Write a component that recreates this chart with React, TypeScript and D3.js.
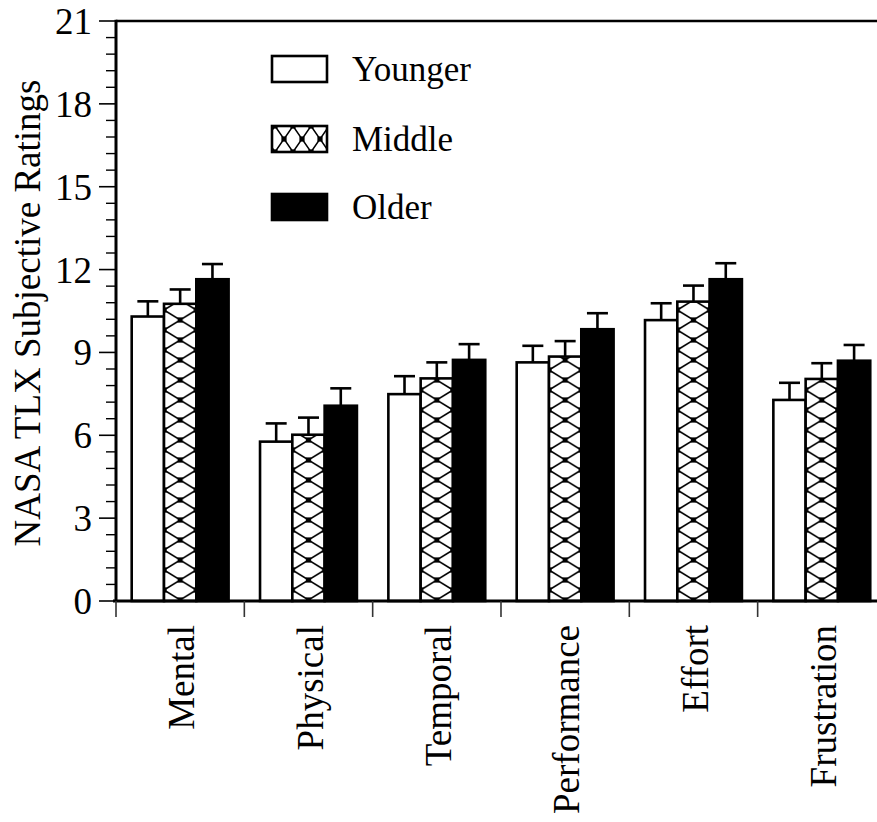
import * as d3 from 'd3'

const categories = ['Mental', 'Physical', 'Temporal', 'Performance', 'Effort', 'Frustration']
const groups = ['Younger', 'Middle', 'Older']

const youngerMeans = [10.3, 5.77, 7.49, 8.64, 10.17, 7.28]
const middleMeans = [10.76, 6.02, 8.06, 8.85, 10.84, 8.04]
const olderMeans = [11.65, 7.07, 8.73, 9.84, 11.65, 8.7]

const youngerErr = [0.55, 0.66, 0.65, 0.6, 0.61, 0.62]
const middleErr = [0.52, 0.62, 0.58, 0.56, 0.58, 0.57]
const olderErr = [0.55, 0.63, 0.57, 0.58, 0.58, 0.57]

const yTickLabels = [0, 3, 6, 9, 12, 15, 18, 21]

const W = 877
const H = 822
const FONT = 'Liberation Serif, Times New Roman, Times, DejaVu Serif, serif'

export default function App() {
  const left = 116
  const top = 21
  const bottom = 601
  const step = 128.33

  const y = d3.scaleLinear().domain([0, 21]).range([bottom, top])
  const x = d3
    .scaleBand<string>()
    .domain(categories)
    .range([left, left + step * categories.length])
    .padding(0)
  const xg = d3.scaleBand<string>().domain(groups).range([15.7, 112.6]).padding(0)
  const bw = xg.bandwidth()

  const means = [youngerMeans, middleMeans, olderMeans]
  const errs = [youngerErr, middleErr, olderErr]

  const minorTicks = d3.range(0, 21.001, 0.6).filter(v => !yTickLabels.some(t => Math.abs(t - v) < 1e-6))
  const boundaries = d3.range(categories.length + 1).map(i => left + i * x.step())

  // diamond lattice with square dots where the diagonals cross
  const hatch = (w: number, h: number) => (
    <>
      <rect width={w} height={h} fill="#fff" />
      <path
        d={`M0,${h / 2}L${w / 2},0L${w},${h / 2}L${w / 2},${h}Z`}
        fill="none"
        stroke="#000"
        strokeWidth={1.5}
      />
      {[
        [w / 2, 0],
        [w / 2, h],
        [0, h / 2],
        [w, h / 2]
      ].map(([cx, cy], k) => (
        <rect key={k} x={cx - 2.6} y={cy - 2.6} width={5.2} height={5.2} fill="#000" />
      ))}
    </>
  )

  const legendY = [69, 139, 207]
  const boxX = 272
  const boxW = 55
  const boxH = 26

  const textStyle = { fontFamily: FONT }

  return (
    <svg
      width={W}
      height={H}
      style={{ position: 'absolute', left: 0, top: 0, background: '#fff', fontFamily: FONT }}
    >
      <defs>
        {categories.map(c => (
          <pattern
            key={c}
            id={`hatch-${c}`}
            patternUnits="userSpaceOnUse"
            x={(x(c) ?? 0) + (xg('Middle') ?? 0)}
            y={0}
            width={bw}
            height={20}
          >
            {hatch(bw, 20)}
          </pattern>
        ))}
        <pattern
          id="hatch-legend"
          patternUnits="userSpaceOnUse"
          x={boxX - 6}
          y={legendY[1] - boxH / 2}
          width={18}
          height={boxH}
        >
          {hatch(18, boxH)}
        </pattern>
      </defs>

      {/* bars */}
      {categories.map((c, i) =>
        groups.map((g, gi) => {
          const bx = (x(c) ?? 0) + (xg(g) ?? 0)
          const v = means[gi][i]
          const e = errs[gi][i]
          const cx = bx + bw / 2
          const fill = gi === 0 ? '#fff' : gi === 1 ? `url(#hatch-${c})` : '#000'
          return (
            <g key={c + g}>
              <line x1={cx} x2={cx} y1={y(v)} y2={y(v + e)} stroke="#000" strokeWidth={2.6} />
              <line x1={cx - 10.5} x2={cx + 10.5} y1={y(v + e)} y2={y(v + e)} stroke="#000" strokeWidth={2.6} />
              <rect
                x={bx}
                y={y(v)}
                width={bw}
                height={bottom - y(v)}
                fill={fill}
                stroke="#000"
                strokeWidth={2.6}
              />
            </g>
          )
        })
      )}

      {/* frame */}
      <line x1={left} x2={W} y1={top} y2={top} stroke="#000" strokeWidth={2.6} />
      <line x1={left} x2={left} y1={top - 1.3} y2={bottom} stroke="#000" strokeWidth={3} />
      <line x1={left - 3} x2={W} y1={bottom} y2={bottom} stroke="#000" strokeWidth={3} />

      {/* y ticks */}
      {yTickLabels.map(t => (
        <g key={t}>
          <line x1={99} x2={left} y1={y(t)} y2={y(t)} stroke="#000" strokeWidth={1.6} />
          <text x={92} y={y(t)} dy="0.35em" textAnchor="end" fontSize={37} style={textStyle}>
            {t}
          </text>
        </g>
      ))}
      {minorTicks.map(t => (
        <line key={t} x1={106} x2={left} y1={y(t)} y2={y(t)} stroke="#000" strokeWidth={1.4} />
      ))}

      {/* category boundaries */}
      {boundaries.map(b => (
        <line key={b} x1={b} x2={b} y1={bottom} y2={617} stroke="#333" strokeWidth={1.6} />
      ))}

      {/* category labels */}
      {categories.map(c => (
        <text
          key={c}
          transform={`translate(${(x(c) ?? 0) + x.bandwidth() / 2 + 1},625) rotate(-90)`}
          dy="0.36em"
          textAnchor="end"
          fontSize={37}
          style={textStyle}
        >
          {c}
        </text>
      ))}

      {/* y title */}
      <text
        transform={`translate(40,${(top + bottom) / 2 + 2}) rotate(-90)`}
        textAnchor="middle"
        fontSize={37}
        style={textStyle}
      >
        NASA TLX Subjective Ratings
      </text>

      {/* legend */}
      {groups.map((g, gi) => (
        <g key={g}>
          <rect
            x={boxX}
            y={legendY[gi] - boxH / 2}
            width={boxW}
            height={boxH}
            fill={gi === 0 ? '#fff' : gi === 1 ? 'url(#hatch-legend)' : '#000'}
            stroke="#000"
            strokeWidth={2.6}
          />
          <text x={352} y={legendY[gi]} dy="0.35em" fontSize={35} style={textStyle}>
            {g}
          </text>
        </g>
      ))}
    </svg>
  )
}
